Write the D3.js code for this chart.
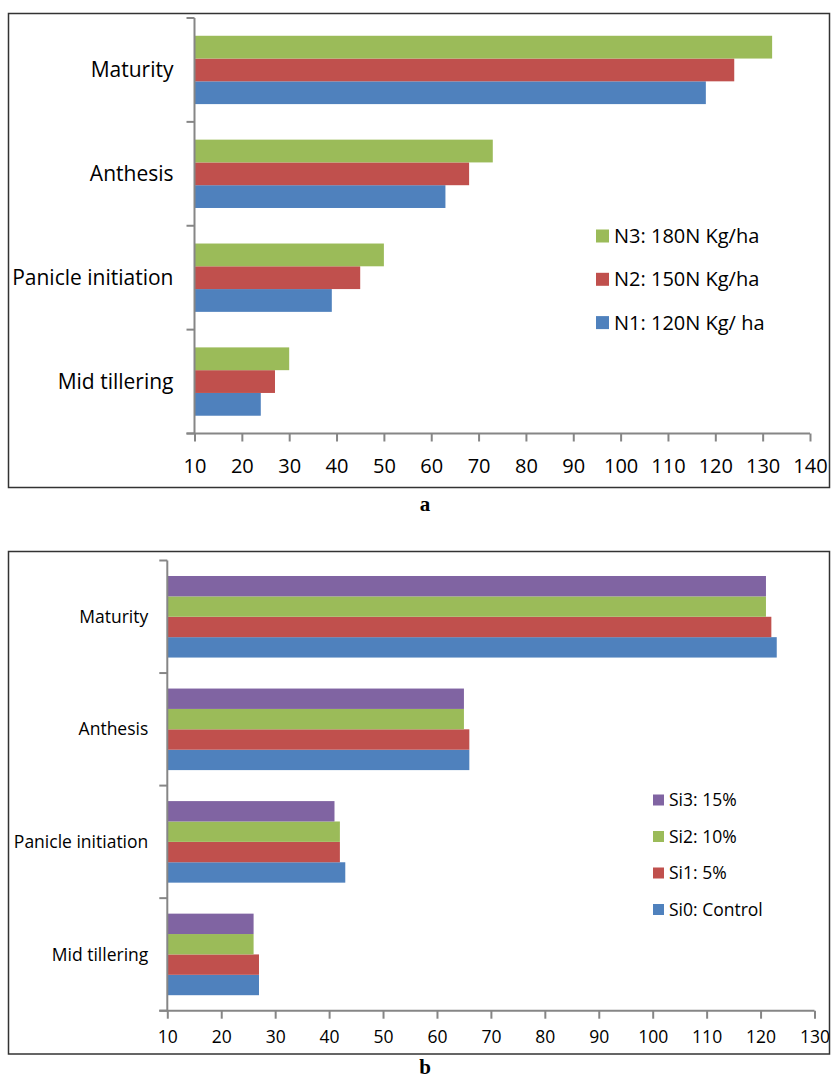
<!DOCTYPE html>
<html>
<head>
<meta charset="utf-8">
<script src="https://cdn.jsdelivr.net/npm/d3@7"></script>
<style>
  html, body { margin: 0; padding: 0; background: #fff; }
  svg { display: block; }
  text { font-family: "Open Sans", "Noto Sans", sans-serif; fill: #000; }
</style>
</head>
<body>
<svg id="chart" width="831" height="1079"></svg>
<script>
// ---------- data ----------
const categories = ["Maturity", "Anthesis", "Panicle initiation", "Mid tillering"];

// Panel a: nitrogen
const nSeries = ["N1: 120N Kg/ ha", "N2: 150N Kg/ha", "N3: 180N Kg/ha"];
const n1Values = [118, 63, 39, 24];
const n2Values = [124, 68, 45, 27];
const n3Values = [132, 73, 50, 30];
const ticksA = [10, 20, 30, 40, 50, 60, 70, 80, 90, 100, 110, 120, 130, 140];

// Panel b: silicon
const siSeries = ["Si0: Control", "Si1: 5%", "Si2: 10%", "Si3: 15%"];
const si0Values = [123, 66, 43, 27];
const si1Values = [122, 66, 42, 27];
const si2Values = [121, 65, 42, 26];
const si3Values = [121, 65, 41, 26];
const ticksB = [10, 20, 30, 40, 50, 60, 70, 80, 90, 100, 110, 120, 130];

const colorsA = ["#4F81BD", "#C0504D", "#9BBB59"];
const colorsB = ["#4F81BD", "#C0504D", "#9BBB59", "#8064A2"];

const svg = d3.select("#chart");

function panel(cfg) {
  const g = svg.append("g");
  // frame
  g.append("rect")
    .attr("x", cfg.frame[0]).attr("y", cfg.frame[1])
    .attr("width", cfg.frame[2] - cfg.frame[0]).attr("height", cfg.frame[3] - cfg.frame[1])
    .attr("fill", "none").attr("stroke", "#333").attr("stroke-width", 1.5);

  const x = d3.scaleLinear().domain([cfg.ticks[0], cfg.ticks[cfg.ticks.length - 1]]).range(cfg.xRange);
  const y = d3.scaleBand().domain(categories).range(cfg.yRange).padding(0);
  // series drawn top to bottom in reverse order
  const order = cfg.series.slice().reverse();
  const inner = d3.scaleBand().domain(order).range([0, y.bandwidth()]).paddingInner(0).paddingOuter(cfg.outerPad);

  const rows = [];
  cfg.series.forEach((s, si) => {
    categories.forEach((c, ci) => {
      rows.push({ s, c, v: cfg.values[si][ci], color: cfg.colors[si] });
    });
  });

  g.selectAll("rect.bar").data(rows).enter().append("rect")
    .attr("class", "bar")
    .attr("x", x(cfg.ticks[0]))
    .attr("y", d => y(d.c) + inner(d.s))
    .attr("width", d => x(d.v) - x(cfg.ticks[0]))
    .attr("height", inner.bandwidth())
    .attr("fill", d => d.color);

  // x axis
  const xa = g.append("g")
    .attr("transform", `translate(0,${cfg.yRange[1]})`)
    .call(d3.axisBottom(x).tickValues(cfg.ticks).tickSize(8).tickPadding(cfg.tickPad).tickSizeOuter(0));
  xa.select(".domain").attr("stroke", "#868686").attr("stroke-width", 2)
    .attr("d", `M${x.range()[0] - 8},0H${x.range()[1]}`);
  xa.selectAll(".tick line").attr("stroke", "#868686").attr("stroke-width", 2);
  xa.selectAll(".tick text").style("font-size", cfg.fs + "px").attr("fill", "#000");

  // y axis line and category boundary ticks
  const x0 = x.range()[0];
  g.append("line")
    .attr("x1", x0).attr("x2", x0)
    .attr("y1", cfg.yRange[0]).attr("y2", cfg.yRange[1])
    .attr("stroke", "#868686").attr("stroke-width", 2);
  const bounds = categories.map(c => y(c)).concat([cfg.yRange[1]]);
  g.selectAll("line.ytick").data(bounds).enter().append("line")
    .attr("class", "ytick")
    .attr("x1", x0 - 8).attr("x2", x0)
    .attr("y1", d => d).attr("y2", d => d)
    .attr("stroke", "#868686").attr("stroke-width", 2);

  // category labels
  g.selectAll("text.cat").data(categories).enter().append("text")
    .attr("class", "cat")
    .attr("x", x0 - cfg.labelGap)
    .attr("y", d => y(d) + y.bandwidth() / 2)
    .attr("dy", "0.35em")
    .attr("text-anchor", "end")
    .style("font-size", cfg.catFs + "px")
    .text(d => d);

  // legend
  const leg = g.selectAll("g.leg").data(order).enter().append("g")
    .attr("class", "leg")
    .attr("transform", (d, i) => `translate(${cfg.legX},${cfg.legY + i * cfg.legStep})`);
  leg.append("rect")
    .attr("x", 0).attr("y", -cfg.sq / 2)
    .attr("width", cfg.sq).attr("height", cfg.sq)
    .attr("fill", d => cfg.colors[cfg.series.indexOf(d)]);
  leg.append("text")
    .attr("x", cfg.sq + 5).attr("y", 0).attr("dy", "0.35em")
    .style("font-size", cfg.fs + "px")
    .text(d => d);

  // panel letter
  svg.append("text")
    .attr("x", 425).attr("y", cfg.letterY).attr("dy", "0.35em")
    .attr("text-anchor", "middle")
    .style("font-family", "'Liberation Serif', 'Times New Roman', serif")
    .style("font-weight", "bold").style("font-size", "21px")
    .text(cfg.letter);
}

panel({
  frame: [8.5, 13.5, 829.5, 487.5],
  ticks: ticksA,
  xRange: [194.5, 810],
  yRange: [18, 433.5],
  series: nSeries,
  values: [n1Values, n2Values, n3Values],
  colors: colorsA,
  outerPad: 0.78,
  tickPad: 17,
  fs: 20,
  catFs: 21,
  labelGap: 21,
  legX: 596, legY: 236, legStep: 43.3, sq: 13,
  letter: "a", letterY: 504
});

panel({
  frame: [8.5, 551.5, 829.5, 1054],
  ticks: ticksB,
  xRange: [167.3, 814.5],
  yRange: [560.5, 1010.7],
  series: siSeries,
  values: [si0Values, si1Values, si2Values, si3Values],
  colors: colorsB,
  outerPad: 0.76,
  tickPad: 12,
  fs: 17.5,
  catFs: 17.5,
  labelGap: 19,
  legX: 653, legY: 800, legStep: 36.5, sq: 11,
  letter: "b", letterY: 1067
});
</script>
</body>
</html>
